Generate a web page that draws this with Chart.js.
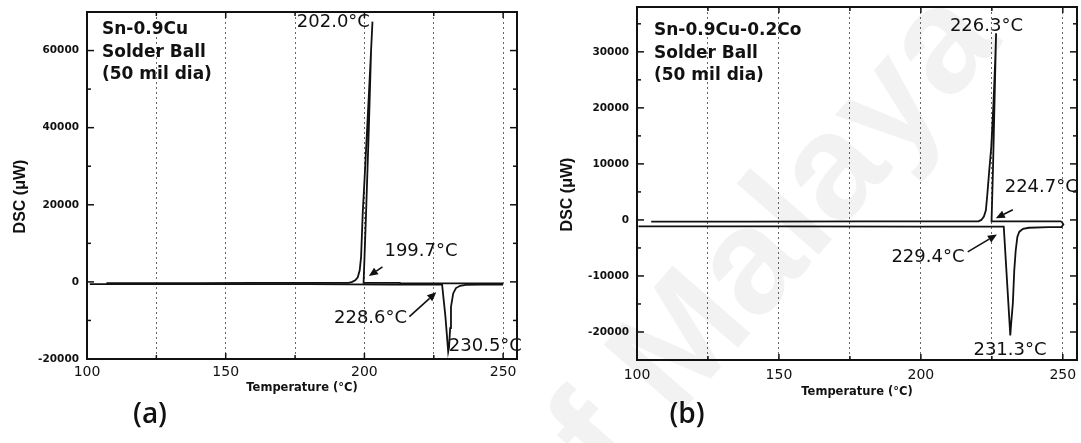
<!DOCTYPE html>
<html><head><meta charset="utf-8">
<script src="https://cdn.jsdelivr.net/npm/chart.js@4.4.1/dist/chart.umd.min.js"></script>
<style>
html,body{margin:0;padding:0;background:#fff;}
#wrap{position:relative;width:1081px;height:443px;overflow:hidden;background:#fff;}
#c1{position:absolute;left:0;top:0;}
#c2{position:absolute;left:540px;top:0;}
</style></head><body>
<div id="wrap">
<canvas id="c1" width="540" height="443"></canvas>
<canvas id="c2" width="541" height="443"></canvas>
</div>
<script>
// ---------- ticks ----------
const xTickValues = [100, 125, 150, 175, 200, 225, 250];
const xTickLabels = [100, 150, 200, 250];
const aYTickValues = [-20000, -10000, 0, 10000, 20000, 30000, 40000, 50000, 60000, 70000];
const aYTickLabels = [-20000, 0, 20000, 40000, 60000];
const bYTickValues = [-25000, -20000, -15000, -10000, -5000, 0, 5000, 10000, 15000, 20000, 25000, 30000, 35000];
const bYTickLabels = [-20000, -10000, 0, 10000, 20000, 30000];

// ---------- (a) Sn-0.9Cu : cooling trace (time order) ----------
const aCoolT   = [250, 230, 213, 212.8, 200.5, 199.7, 200.6, 201.6, 202.4, 202.9, 202.4, 201.0, 200.0, 199.4, 198.8, 198.3, 197.6, 196.7, 195.6, 194.3, 180, 160, 140, 120, 107];
const aCoolDSC = [-400, -400, -400, -250, -250, -250, 18000, 40000, 60000, 67500, 60000, 40000, 26000, 18000, 6500, 3000, 1200, 400, 0, -250, -250, -250, -300, -300, -300];
// ---------- (a) heating trace ----------
const aHeatT   = [101, 120, 150, 180, 210, 228.0, 229.2, 230.2, 230.5, 230.9, 231.2, 232.0, 233.0, 234.5, 236.5, 242, 250];
const aHeatDSC = [-600, -600, -600, -600, -700, -700, -9000, -18100, -17000, -12000, -6500, -3000, -1600, -1000, -800, -700, -700];

// ---------- (b) Sn-0.9Cu-0.2Co : cooling trace ----------
const bCoolT   = [249.5, 240, 226.0, 224.9, 225.4, 225.8, 226.5, 226.3, 225.6, 224.8, 224.1, 223.4, 222.9, 222.2, 221.3, 220.3, 200, 180, 140, 105];
const bCoolDSC = [-250, -250, -250, -250, 9000, 17800, 33300, 30000, 21000, 13000, 8900, 4500, 1700, 600, 0, -250, -250, -250, -300, -300];
// ---------- (b) heating trace ----------
const bHeatT   = [100.5, 150, 200, 229.2, 231.5, 231.8, 232.4, 232.9, 233.4, 234.0, 234.7, 236, 238, 245, 249.5, 250.2, 249.5];
const bHeatDSC = [-1150, -1150, -1200, -1200, -20600, -18500, -14900, -9000, -5500, -3000, -2100, -1600, -1400, -1300, -1300, -800, -250];

// ---------- annotations ----------
const aSample = ['Sn-0.9Cu', 'Solder Ball', '(50 mil dia)'];
const bSample = ['Sn-0.9Cu-0.2Co', 'Solder Ball', '(50 mil dia)'];
const aNotes = [
  {t: '202.0°C', x: 188.8, y: 67300},
  {t: '199.7°C', x: 220.4, y: 7900},
  {t: '228.6°C', x: 202.2, y: -9500},
  {t: '230.5°C', x: 243.6, y: -16800}
];
const aArrows = [
  {from: [206.5, 3900], to: [201.6, 1500]},
  {from: [216.2, -9000], to: [225.9, -2700]}
];
const bNotes = [
  {t: '226.3°C', x: 223.1, y: 34600},
  {t: '224.7°C', x: 242.4, y: 5900},
  {t: '229.4°C', x: 202.5, y: -6600},
  {t: '231.3°C', x: 231.4, y: -23300}
];
const bArrows = [
  {from: [232.4, 1800], to: [226.4, 300]},
  {from: [216.5, -5700], to: [226.8, -2600]}
];
const watermark = 'of Malaya';

const pts = (xs, ys) => xs.map((v, i) => ({x: v, y: ys[i]}));

const decor = {
  id: 'decor',
  beforeDraw(chart) {
    const o = chart.options.plugins.decor;
    if (!o.watermark) return;
    const ctx = chart.ctx;
    ctx.save();
    ctx.translate(o.wmX, o.wmY);
    ctx.rotate(-49 * Math.PI / 180);
    ctx.font = 'bold 150px "Liberation Sans"';
    ctx.fillStyle = 'rgba(0,0,0,0.05)';
    ctx.textAlign = 'left';
    ctx.textBaseline = 'alphabetic';
    const w = ctx.measureText('of ').width;
    ctx.fillText(o.watermark, -w, 0);
    ctx.restore();
  },
  afterDraw(chart) {
    const o = chart.options.plugins.decor;
    const {ctx, chartArea: ca, scales: {x, y}} = chart;
    const line = (x1, y1, x2, y2) => { ctx.beginPath(); ctx.moveTo(x1, y1); ctx.lineTo(x2, y2); ctx.stroke(); };
    ctx.save();
    ctx.fillStyle = '#111';
    ctx.strokeStyle = '#111';
    ctx.font = o.noteFont;
    ctx.textAlign = 'center';
    ctx.textBaseline = 'middle';
    o.notes.forEach(n => ctx.fillText(n.t, x.getPixelForValue(n.x), y.getPixelForValue(n.y)));
    ctx.font = o.sampleFont;
    ctx.textAlign = 'left';
    o.sample.forEach((s, i) => ctx.fillText(s, ca.left + o.sampleDx, ca.top + o.sampleTop + i * o.sampleGap));
    ctx.lineWidth = 1.6;
    o.arrows.forEach(a => {
      const x1 = x.getPixelForValue(a.from[0]), y1 = y.getPixelForValue(a.from[1]);
      const x2 = x.getPixelForValue(a.to[0]), y2 = y.getPixelForValue(a.to[1]);
      const ang = Math.atan2(y2 - y1, x2 - x1);
      const hl = 9, hw = 4;
      const bx = x2 - hl * Math.cos(ang), by = y2 - hl * Math.sin(ang);
      line(x1, y1, bx, by);
      ctx.beginPath();
      ctx.moveTo(x2, y2);
      ctx.lineTo(bx + hw * Math.sin(ang), by - hw * Math.cos(ang));
      ctx.lineTo(bx - hw * Math.sin(ang), by + hw * Math.cos(ang));
      ctx.closePath();
      ctx.fill();
    });
    ctx.lineWidth = 2;
    ctx.strokeRect(ca.left, ca.top, ca.right - ca.left, ca.bottom - ca.top);
    ctx.lineWidth = 1.5;
    y.ticks.forEach(t => {
      const py = y.getPixelForValue(t.value);
      if (py <= ca.top + 1 || py >= ca.bottom - 1) return;
      const len = o.yLabels.includes(t.value) ? 7 : 4;
      line(ca.left, py, ca.left + len, py);
      line(ca.right, py, ca.right - len, py);
    });
    x.ticks.forEach(t => {
      const px = x.getPixelForValue(t.value);
      if (px <= ca.left + 1) return;
      const len = xTickLabels.includes(t.value) ? 6 : 4;
      line(px, ca.top, px, ca.top + len);
      line(px, ca.bottom, px, ca.bottom - len);
    });
    ctx.save();
    ctx.translate(o.yTitleX, (ca.top + ca.bottom) / 2 + o.yTitleShift);
    ctx.rotate(-Math.PI / 2);
    ctx.font = 'bold 16px "Liberation Sans"';
    ctx.textAlign = 'center';
    ctx.textBaseline = 'middle';
    ctx.fillText('DSC (μW)', 0, 0);
    ctx.restore();
    ctx.font = '600 28px "Open Sans"';
    ctx.textAlign = 'center';
    ctx.textBaseline = 'middle';
    ctx.fillText(o.panel, o.panelX, o.panelY);
    ctx.restore();
  }
};

function makeChart(id, cfg) {
  return new Chart(document.getElementById(id), {
    type: 'scatter',
    data: {
      datasets: cfg.series.map(s => ({
        data: s, showLine: true, borderColor: '#111', borderWidth: 1.8,
        pointRadius: 0, tension: 0, fill: false
      }))
    },
    options: {
      responsive: false,
      animation: false,
      events: [],
      layout: {padding: cfg.padding},
      plugins: {legend: {display: false}, tooltip: {enabled: false}, decor: cfg.decor},
      scales: {
        x: {
          type: 'linear', min: 100, max: 255,
          afterBuildTicks: s => { s.ticks = xTickValues.map(v => ({value: v})); },
          afterFit: s => { s.height = cfg.xHeight; s.paddingLeft = 0; s.paddingRight = 0; s.paddingTop = 0; s.paddingBottom = 0; },
          ticks: {
            autoSkip: false, maxRotation: 0, padding: cfg.xTickPad, color: '#111',
            font: {family: 'DejaVu Sans', size: 14},
            callback: v => xTickLabels.includes(v) ? String(v) : ''
          },
          grid: {
            drawTicks: false, lineWidth: 1,
            color: c => (c.tick && c.tick.value > 100) ? 'rgba(0,0,0,0.6)' : 'rgba(0,0,0,0)'
          },
          border: {display: false, dash: [2, 3]},
          title: {
            display: true, text: 'Temperature (°C)', color: '#111',
            font: {family: 'DejaVu Sans', size: 11.5, weight: 'bold'},
            padding: {top: 0, bottom: cfg.xTitlePad}
          }
        },
        y: {
          type: 'linear', min: cfg.yMin, max: cfg.yMax,
          afterBuildTicks: s => { s.ticks = cfg.yValues.map(v => ({value: v})); },
          afterFit: s => { s.width = cfg.yWidth; s.paddingTop = 0; s.paddingBottom = 0; s.paddingLeft = 0; s.paddingRight = 0; },
          ticks: {
            autoSkip: false, padding: 8, color: '#111',
            font: {family: 'DejaVu Sans', size: 10.5, weight: 'bold'},
            callback: v => cfg.yLabels.includes(v) ? String(v) : ''
          },
          grid: {display: false, drawTicks: false},
          border: {display: false},
          title: {display: false}
        }
      }
    },
    plugins: [decor]
  });
}

makeChart('c1', {
  series: [pts(aCoolT, aCoolDSC), pts(aHeatT, aHeatDSC)],
  padding: {top: 12, right: 23, bottom: 0, left: 0},
  xHeight: 84, yWidth: 87, xTickPad: 5, xTitlePad: 48,
  yMin: -20000, yMax: 70000, yValues: aYTickValues, yLabels: aYTickLabels,
  decor: {
    notes: aNotes, arrows: aArrows, sample: aSample, yLabels: aYTickLabels,
    noteFont: '18px "DejaVu Sans"', sampleFont: 'bold 17px "DejaVu Sans"',
    sampleDx: 15, sampleTop: 18, sampleGap: 22.5,
    yTitleX: 21, yTitleShift: 11,
    panel: '(a)', panelX: 150, panelY: 415
  }
});

makeChart('c2', {
  series: [pts(bCoolT, bCoolDSC), pts(bHeatT, bHeatDSC)],
  padding: {top: 7, right: 4, bottom: 0, left: 0},
  xHeight: 83, yWidth: 97, xTickPad: 7, xTitlePad: 44,
  yMin: -25000, yMax: 38000, yValues: bYTickValues, yLabels: bYTickLabels,
  decor: {
    notes: bNotes, arrows: bArrows, sample: bSample, yLabels: bYTickLabels,
    noteFont: '18px "DejaVu Sans"', sampleFont: 'bold 17px "DejaVu Sans"',
    sampleDx: 17, sampleTop: 24, sampleGap: 22.5,
    yTitleX: 28, yTitleShift: 11,
    panel: '(b)', panelX: 147, panelY: 415,
    watermark: watermark, wmX: 135, wmY: 420
  }
});
</script>
</body></html>
